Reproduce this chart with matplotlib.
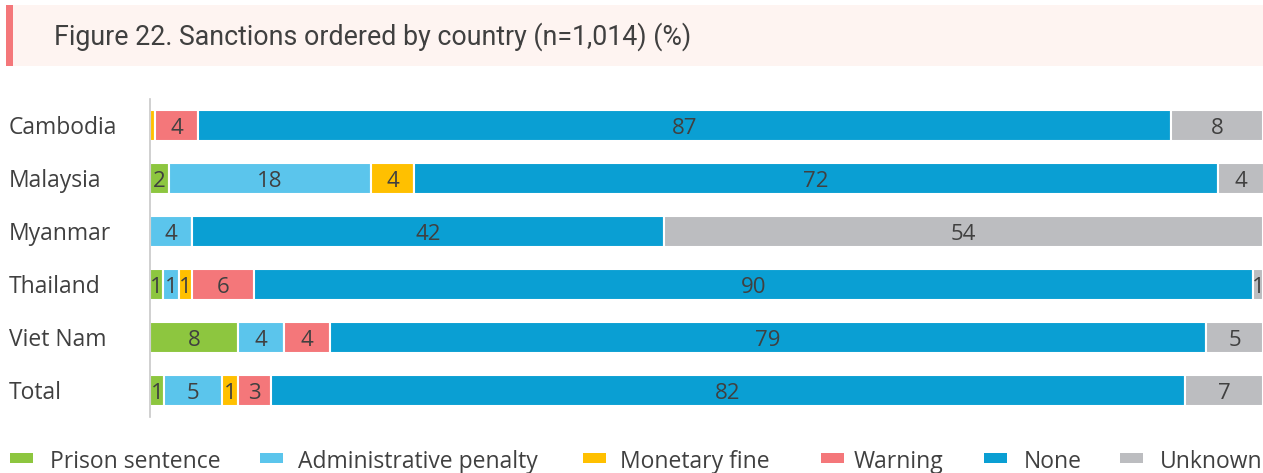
import numpy as np
import matplotlib.pyplot as plt
from matplotlib.patches import Rectangle

countries = ["Cambodia", "Malaysia", "Myanmar", "Thailand", "Viet Nam", "Total"]
categories = ["Prison sentence", "Administrative penalty", "Monetary fine", "Warning", "None", "Unknown"]
colors = ["#8DC63F", "#5BC5EC", "#FFC000", "#F4777A", "#0A9FD3", "#BCBDC0"]

# one entry per country (labels are rounded)
prison = [0, 1.7, 0, 1.2, 7.9, 1.3]
admin = [0, 18.2, 3.8, 1.4, 4.2, 5.2]
fine = [0.5, 3.8, 0, 1.2, 0, 1.4]
warning = [3.8, 0, 0, 5.6, 4.1, 3.0]
none = [87.4, 72.3, 42.4, 89.7, 78.7, 82.1]
unknown = [8.3, 4.1, 53.8, 0.9, 5.1, 7.0]

data = np.array([prison, admin, fine, warning, none, unknown]).T
txt = "#404040"
W, H = 1263, 473

fig = plt.figure(figsize=(12.63, 4.73), dpi=100)

# title box
fig.patches.append(Rectangle((10 / W, 1 - 66 / H), 1, 61 / H, transform=fig.transFigure,
                             facecolor="#FEF4F1", edgecolor="none", zorder=0))
fig.patches.append(Rectangle((6 / W, 1 - 66 / H), 7 / W, 61 / H, transform=fig.transFigure,
                             facecolor="#F4777A", edgecolor="none", zorder=1))
fig.text(54 / W, 1 - 37 / H, "Figure 22. Sanctions ordered by country (n=1,014) (%)",
         fontsize=19.3, family="Roboto", color=txt, va="center", ha="left")

ax = fig.add_axes([149.8 / W, 1 - 417 / H, 1113.2 / W, 318 / H])
y = np.arange(len(countries))
left = np.zeros(len(countries))
for j, cat in enumerate(categories):
    vals = data[:, j]
    ax.barh(y, vals, left=left, height=0.57, color=colors[j], edgecolor="white",
            linewidth=1.5, label=cat)
    for i, v in enumerate(vals):
        if v >= 0.75:
            ax.text(left[i] + v / 2, y[i] + 0.05, str(int(round(v))), ha="center", va="center",
                    fontsize=16, family="Open Sans", color=txt)
    left += vals

ax.set_xlim(0, 100)
ax.set_ylim(len(countries) - 0.5, -0.5)
ax.set_xticks([])
ax.set_yticks([])
for s in ["top", "right", "bottom"]:
    ax.spines[s].set_visible(False)
ax.spines["left"].set_color("#C8C8C8")
ax.spines["left"].set_linewidth(1.2)

for i, c in enumerate(countries):
    ax.text(-141 / 11.13, y[i] + 0.05, c, ha="left", va="center", fontsize=16.5,
            family="Open Sans", color=txt, clip_on=False)

# legend, laid out by hand like the original
marker_x = [10, 260, 583, 821, 984, 1120]
text_x = [50, 298, 620, 854, 1024, 1160]
for j, cat in enumerate(categories):
    fig.patches.append(Rectangle((marker_x[j] / W, 1 - 463 / H), 23 / W, 10 / H,
                                 transform=fig.transFigure, facecolor=colors[j],
                                 edgecolor="none"))
    fig.text(text_x[j] / W, 1 - 462 / H, cat, fontsize=16.5, family="Open Sans",
             color=txt, ha="left", va="center")

fig.savefig("out.png", dpi=100)
